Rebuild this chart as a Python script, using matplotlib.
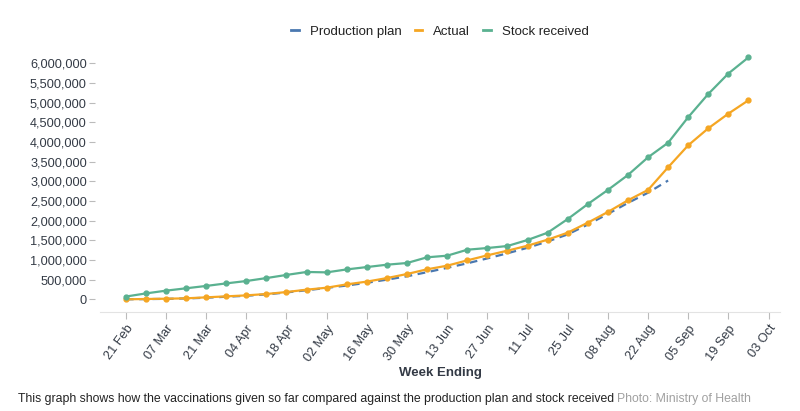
import matplotlib
matplotlib.use("Agg")
import matplotlib.pyplot as plt
import matplotlib.dates as mdates
from matplotlib.lines import Line2D
import numpy as np
import datetime as dt

plt.rcParams['font.family'] = ['Liberation Sans', 'DejaVu Sans']

# weekly data, week ending 21 Feb 2021 onwards
start = dt.date(2021, 2, 21)
stock = [0.07, 0.15, 0.22, 0.28, 0.34, 0.405, 0.465, 0.54, 0.62, 0.695, 0.685,
         0.76, 0.82, 0.88, 0.923, 1.068, 1.109, 1.261, 1.304, 1.355, 1.508,
         1.693, 2.04, 2.42, 2.78, 3.16, 3.61, 3.98, 4.63, 5.22, 5.74, 6.15]
actual = [0.0, 0.008, 0.015, 0.025, 0.05, 0.075, 0.10, 0.135, 0.185, 0.245,
          0.295, 0.38, 0.45, 0.54, 0.643, 0.763, 0.855, 0.99, 1.118, 1.236,
          1.363, 1.516, 1.694, 1.948, 2.22, 2.517, 2.78, 3.356, 3.915, 4.347,
          4.72, 5.06]
plan = [0.0, 0.005, 0.012, 0.022, 0.04, 0.065, 0.09, 0.125, 0.175, 0.23, 0.29,
        0.35, 0.42, 0.50, 0.585, 0.69, 0.80, 0.915, 1.04, 1.17, 1.31, 1.47,
        1.65, 1.90, 2.17, 2.45, 2.71, 3.02]
tick_labels = ['21 Feb', '07 Mar', '21 Mar', '04 Apr', '18 Apr', '02 May',
               '16 May', '30 May', '13 Jun', '27 Jun', '11 Jul', '25 Jul',
               '08 Aug', '22 Aug', '05 Sep', '19 Sep', '03 Oct']

weeks = [start + dt.timedelta(weeks=i) for i in range(len(stock))]
stock = np.array(stock) * 1e6
actual = np.array(actual) * 1e6
plan = np.array(plan) * 1e6
tick_dates = [start + dt.timedelta(weeks=2 * i) for i in range(len(tick_labels))]

c_plan = '#4a78b0'
c_act = '#f5a623'
c_stock = '#5ab190'
txt = '#333a45'

fig = plt.figure(figsize=(8, 4.11), dpi=100)
ax = fig.add_axes([0.125, 0.2416, 0.85, 0.6368])

ax.plot(weeks[:len(plan)], plan, color=c_plan, lw=1.6, dashes=(3.5, 2.5), zorder=2)
ax.plot(weeks, actual, color=c_act, lw=1.6, marker='o', ms=3.5, zorder=3)
ax.plot(weeks, stock, color=c_stock, lw=1.6, marker='o', ms=3.5, zorder=4)

ax.set_xlim(mdates.date2num(start) - 9, mdates.date2num(start) + 228)
ax.set_ylim(-315000, 6.339e6)

ax.set_yticks(np.arange(0, 6000001, 500000))
ax.yaxis.set_major_formatter(matplotlib.ticker.FuncFormatter(lambda v, p: f'{int(v):,}'))
ax.set_xticks(tick_dates)
ax.set_xticklabels(tick_labels, rotation=54, ha='right', rotation_mode='anchor')

for s in ['top', 'right', 'left']:
    ax.spines[s].set_visible(False)
ax.spines['bottom'].set_color('#e3e3e3')
ax.spines['left'].set_position(('outward', 3.5))
ax.tick_params(axis='y', colors='#bbbbbb', labelcolor=txt, labelsize=9.2,
               length=4, width=0.8, pad=2)
ax.tick_params(axis='x', colors='#bbbbbb', labelcolor=txt, labelsize=9.2,
               length=5, width=0.8, pad=3)

ax.set_xlabel('Week Ending', fontsize=9.5, fontweight='bold', color=txt)
ax.xaxis.set_label_coords(0.5, -0.21)

handles = [Line2D([], [], color=c_plan, lw=2),
           Line2D([], [], color=c_act, lw=2),
           Line2D([], [], color=c_stock, lw=2)]
leg = ax.legend(handles, ['Production plan', 'Actual', 'Stock received'],
                loc='lower center', bbox_to_anchor=(0.5, 1.0), ncol=3,
                frameon=False, fontsize=9.5, handlelength=0.55,
                handletextpad=0.85, columnspacing=1.0)
for t in leg.get_texts():
    t.set_color('#222222')

cap = fig.text(0.0225, 0.022, 'This graph shows how the vaccinations given so far '
               'compared against the production plan and stock received',
               fontsize=8.8, color='#222222')
fig.canvas.draw()
bb = cap.get_window_extent()
fig.text((bb.x1 + 3) / fig.bbox.width, 0.022, 'Photo: Ministry of Health',
         fontsize=8.8, color='#a0a0a0')

fig.savefig('out.png', dpi=100)
